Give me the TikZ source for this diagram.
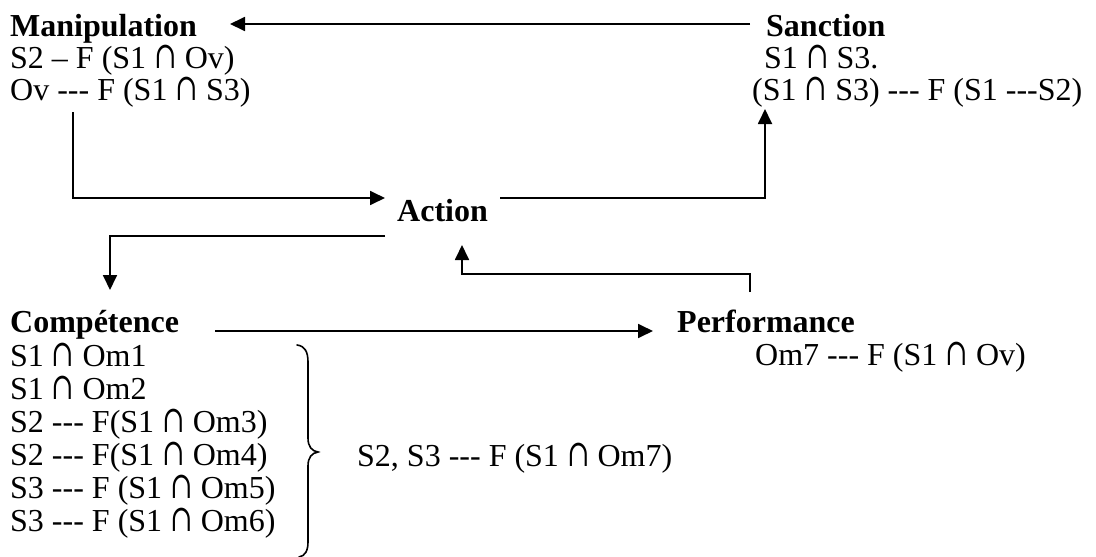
\documentclass[tikz,border=0pt]{standalone}
\usepackage{fontspec}
\usepackage{graphicx}
\setmainfont{Liberation Serif}
\newfontfamily\symf{DejaVu Serif}
\usetikzlibrary{arrows.meta}
\newcommand\dsh{-\kern0pt-\kern0pt-}
\newcommand\inter{\scalebox{1}[1.38]{\symf\fontsize{27}{30}\selectfont ∩}}
\begin{document}
\begin{tikzpicture}[x=1pt,y=-1pt,
  txt/.style={anchor=base west,inner sep=0pt,font=\fontsize{32}{38}\selectfont},
  hd/.style={anchor=base west,inner sep=0pt,font=\fontsize{32}{38}\selectfont\bfseries},
  conn/.style={line width=1.8pt},
  arr/.style={conn,-{Triangle[length=15pt,width=14pt]}}]
\useasboundingbox[fill=white] (0,0) rectangle (1096,557);
% texts
\node[hd]  (manip) at (10,36) {Manipulation};
\node[txt] (m1) at (10,68) {S2 – F (S1 \inter{} Ov)};
\node[txt] (m2) at (10,100) {Ov \dsh{} F (S1 \inter{} S3)};
\node[hd]  (sanc) at (766,36) {Sanction};
\node[txt] (s1) at (764,68) {S1 \inter{} S3.};
\node[txt] (s2) at (752,100) {(S1 \inter{} S3) \dsh{} F (S1 \dsh S2)};
\node[hd]  (act) at (397,221) {Action};
\node[hd]  (comp) at (10,332) {Compétence};
\node[hd]  (perf) at (677,332) {Performance};
\node[txt] (p1) at (755,365) {Om7 \dsh{} F (S1 \inter{} Ov)};
\node[txt] (c1) at (10,366) {S1 \inter{} Om1};
\node[txt] (c2) at (10,399) {S1 \inter{} Om2};
\node[txt] (c3) at (10,432) {S2 \dsh{} F(S1 \inter{} Om3)};
\node[txt] (c4) at (10,465) {S2 \dsh{} F(S1 \inter{} Om4)};
\node[txt] (c5) at (10,498) {S3 \dsh{} F (S1 \inter{} Om5)};
\node[txt] (c6) at (10,531) {S3 \dsh{} F (S1 \inter{} Om6)};
\node[txt] (res) at (357,466) {S2, S3 \dsh{} F (S1 \inter{} Om7)};
% connector points
\coordinate (tA) at (750,24);
\coordinate (tB) at (230,24);
\coordinate (mA) at (73,112);
\coordinate (mB) at (73,198);
\coordinate (mC) at (385,198);
\coordinate (sA) at (500,198);
\coordinate (sB) at (765,198);
\coordinate (sC) at (765,109);
\coordinate (kA) at (385,236);
\coordinate (kB) at (110,236);
\coordinate (kC) at (110,290);
\coordinate (pA) at (750,292);
\coordinate (pB) at (750,274);
\coordinate (pC) at (462,274);
\coordinate (pD) at (462,245);
\coordinate (cA) at (215,331);
\coordinate (cB) at (653,331);
% connectors
\draw[arr] (tA) -- (tB);
\draw[arr] (mA) -- (mB) -- (mC);
\draw[arr] (sA) -- (sB) -- (sC);
\draw[arr] (kA) -- (kB) -- (kC);
\draw[arr] (pA) -- (pB) -- (pC) -- (pD);
\draw[arr] (cA) -- (cB);
% brace
\draw[line width=1.6pt,line cap=round]
  (297,345) .. controls (305,346) and (308,352) .. (308,362)
  -- (308,438) .. controls (308,447) and (312,451) .. (318,452)
  .. controls (312,453) and (308,457) .. (308,466)
  -- (308,542) .. controls (308,551) and (305,556) .. (299,557);
\end{tikzpicture}
\end{document}
